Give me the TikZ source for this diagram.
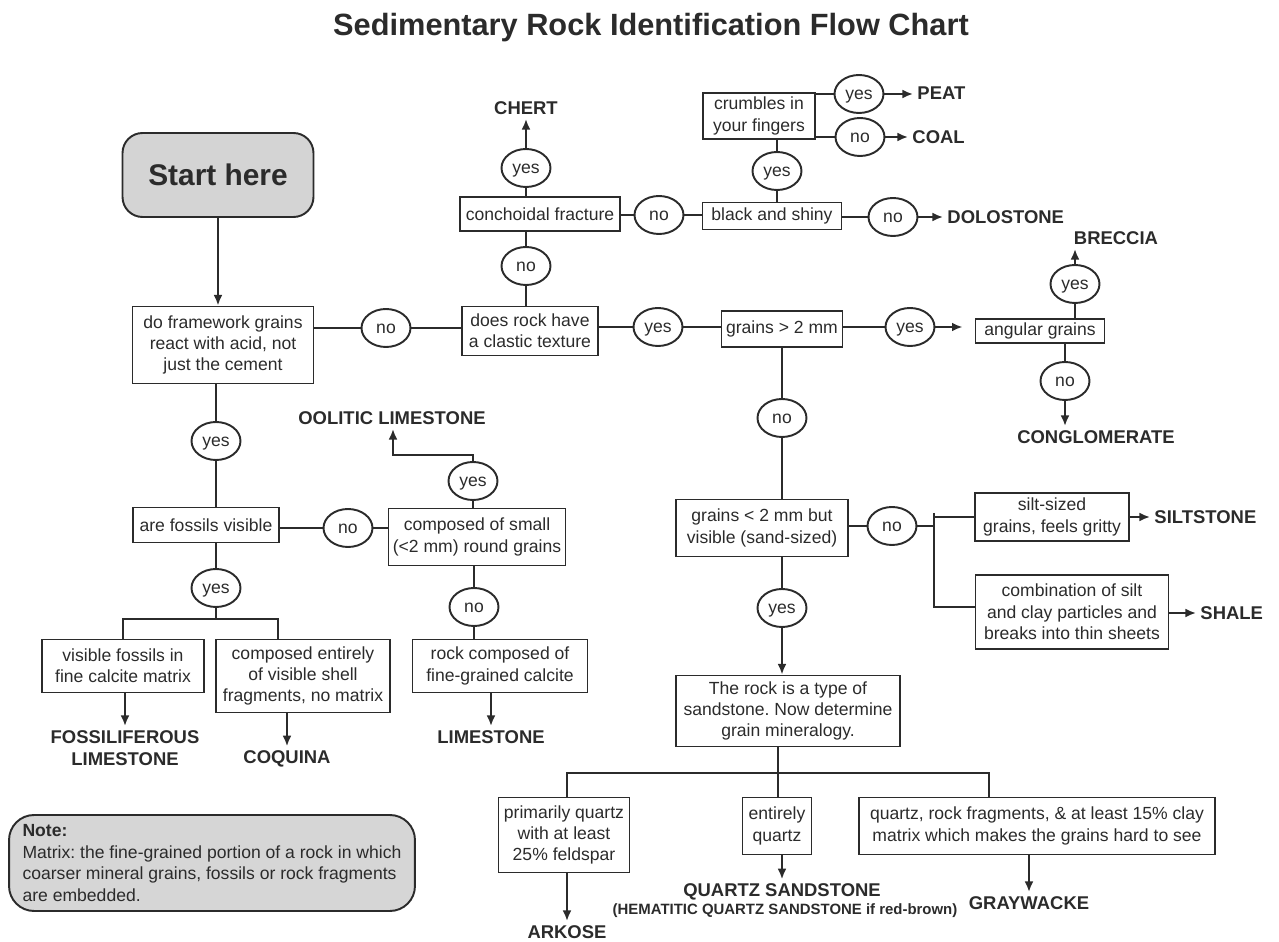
\documentclass[tikz,border=0pt]{standalone}
\usepackage{fontspec}
\setmainfont{Liberation Sans}
\usetikzlibrary{shapes,arrows.meta}

\definecolor{ink}{HTML}{2B2B2B}
\definecolor{startgray}{HTML}{D4D4D4}
\definecolor{notegray}{HTML}{D6D6D6}

\newcommand{\boxfont}{\fontsize{10}{12.2}\selectfont}
\newcommand{\rockfont}{\fontsize{10.5}{12.5}\selectfont\bfseries}

\begin{document}
\frenchspacing
\begin{tikzpicture}[x=0.02cm,y=-0.02cm,color=ink,>={Latex[length=6pt,width=5pt]}]
        \tikzstyle{every path}=[line width=1.1pt]

        \tikzstyle{box}=[draw,align=center,inner sep=2pt,font=\boxfont]
        \tikzstyle{oval}=[draw,ellipse,minimum width=0.98cm,minimum height=0.76cm,inner sep=0pt,text height=1.3ex,text depth=0.1ex,font=\boxfont]
        \tikzstyle{rock}=[align=center,inner sep=2pt,font=\rockfont]
        \tikzstyle{hema}=[inner sep=1pt,font=\fontsize{8.5}{10}\selectfont\bfseries]
        \tikzstyle{startbox}=[draw,fill=startgray,rounded corners=0.4cm,minimum width=3.82cm,minimum height=1.68cm,font=\fontsize{17}{20}\selectfont\bfseries]
        \tikzstyle{notebox}=[draw,fill=notegray,rounded corners=0.5cm,minimum width=8.12cm,minimum height=1.92cm,align=left,font=\boxfont]

        \useasboundingbox (0,0) rectangle (1279,942);

        \node[font=\fontsize{17.5}{21}\selectfont\bfseries] (title) at (651,28) {Sedimentary Rock Identification Flow Chart};

        \node[startbox] (start) at (218,175) {Start here};
        \node[box,minimum width=3.62cm,minimum height=1.54cm] (react) at (223,345) {do framework grains\\react with acid, not\\just the cement};
        \draw[->] (start) -- (start |- react.north);

        % clastic or not
        \node[oval] (noA) at (386,328) {no};
        \node[box,minimum width=2.72cm,minimum height=0.98cm] (clastic) at (530,331) {does rock have\\a clastic texture};
        \draw (react.east |- noA) -- (noA) -- (clastic.west |- noA);

        \node[oval] (noB) at (526,266) {no};
        \node[box,minimum width=3.2cm,minimum height=0.68cm] (conch) at (540,214) {conchoidal fracture};
        \node[oval] (yesB) at (526,168) {yes};
        \node[rock] (chert) at (526,108) {CHERT};
        \draw (clastic.north -| noB) -- (noB) -- (noB |- conch.south);
        \draw (conch.north -| yesB) -- (yesB);
        \draw[->] (yesB) -- (yesB |- chert.south);

        \node[oval] (noF) at (659,215) {no};
        \node[box,minimum width=2.78cm,minimum height=0.54cm] (black) at (772,216) {black and shiny};
        \draw (conch.east |- noF) -- (noF) -- (black.west |- noF);
        \node[oval] (noG) at (893,217) {no};
        \node[rock,anchor=west] (dolo) at (943,217) {DOLOSTONE};
        \draw (black.east |- noG) -- (noG);
        \draw[->] (noG) -- (dolo);

        \node[oval] (yesG) at (777,171) {yes};
        \node[box,minimum width=2.24cm,minimum height=0.92cm] (crumble) at (759,116) {crumbles in\\your fingers};
        \draw (black.north -| yesG) -- (yesG) -- (yesG |- crumble.south);
        \node[oval] (yesH) at (859,94) {yes};
        \node[oval] (noH) at (860,137) {no};
        \node[rock,anchor=west] (peat) at (913,93) {PEAT};
        \node[rock,anchor=west] (coal) at (908,137) {COAL};
        \draw (crumble.east |- yesH) -- (yesH);
        \draw (crumble.east |- noH) -- (noH);
        \draw[->] (yesH) -- (peat.west |- yesH);
        \draw[->] (noH) -- (coal);

        % grain size
        \node[oval] (yesC) at (658,327) {yes};
        \node[box,minimum width=2.42cm,minimum height=0.72cm] (gt2) at (782,329) {grains > 2 mm};
        \draw (clastic.east |- yesC) -- (yesC) -- (gt2.west |- yesC);
        \node[oval] (yesD) at (910,327) {yes};
        \node[box,minimum width=2.58cm,minimum height=0.48cm] (angular) at (1040,331) {angular grains};
        \draw (gt2.east |- yesD) -- (yesD);
        \draw[->,shorten >=0.24cm] (yesD) -- (angular.west |- yesD);

        \node[oval] (yesE) at (1075,284) {yes};
        \node[rock] (breccia) at (1116,238) {BRECCIA};
        \draw (angular.north -| yesE) -- (yesE);
        \draw[->] (yesE) -- (yesE |- breccia.south);
        \node[oval] (noE) at (1065,381) {no};
        \node[rock] (congl) at (1096,437) {CONGLOMERATE};
        \draw (angular.south -| noE) -- (noE);
        \draw[->] (noE) -- (noE |- congl.north);

        \node[oval] (noI) at (782,418) {no};
        \node[box,minimum width=3.44cm,minimum height=1.14cm] (lt2) at (762,528) {grains < 2 mm but\\visible (sand-sized)};
        \draw (gt2) -- (noI) -- (noI |- lt2.north);

        \node[oval] (noJ) at (892,526) {no};
        \draw (lt2.east |- noJ) -- (noJ);
        \coordinate (splitT) at (934,513);
        \coordinate (splitB) at (934,607);
        \node[box,minimum width=3.08cm,minimum height=0.96cm] (silt) at (1052,517) {silt-sized\\grains, feels gritty};
        \node[box,minimum width=3.86cm,minimum height=1.48cm] (combo) at (1072,612) {combination of silt\\and clay particles and\\breaks into thin sheets};
        \draw (noJ) -- (noJ -| splitT);
        \draw (splitT) -- (splitB) -- (combo.west |- splitB);
        \draw (splitT |- silt) -- (silt.west);
        \node[rock,anchor=west] (siltst) at (1150,517) {SILTSTONE};
        \node[rock,anchor=west] (shale) at (1196,613) {SHALE};
        \draw[->] (silt.east) -- (siltst.west);
        \draw[->] (combo.east |- shale) -- (shale.west);

        % sandstones
        \node[oval] (yesK) at (782,608) {yes};
        \node[box,minimum width=4.48cm,minimum height=1.42cm] (sand) at (788,711) {The rock is a type of\\sandstone. Now determine\\grain mineralogy.};
        \draw (lt2.south -| yesK) -- (yesK);
        \draw[->] (yesK) -- (yesK |- sand.north);

        \coordinate (barL) at (567,773);
        \coordinate (barM) at (778,773);
        \coordinate (barR) at (989,773);
        \node[box,minimum width=2.62cm,minimum height=1.5cm] (arkose) at (564,835) {primarily quartz\\with at least\\25\% feldspar};
        \node[box,minimum width=1.38cm,minimum height=1.14cm] (quartz) at (777,826) {entirely\\quartz};
        \node[box,minimum width=7.12cm,minimum height=1.14cm] (gray) at (1037,826) {quartz, rock fragments, \& at least 15\% clay\\matrix which makes the grains hard to see};
        \draw (sand.south -| barM) -- (barM |- quartz.north);
        \draw (barL |- arkose.north) -- (barL) -- (barR) -- (barR |- gray.north);

        \node[rock] (arklbl) at (567,932) {ARKOSE};
        \node[rock] (qslbl) at (782,892) {QUARTZ SANDSTONE};
        \node[hema] (hemalbl) at (785,911) {(HEMATITIC QUARTZ SANDSTONE if red-brown)};
        \node[rock] (gwlbl) at (1029,903) {GRAYWACKE};

        % limestones
        \node[oval] (yes1) at (216,441) {yes};
        \node[box,minimum width=2.92cm,minimum height=0.7cm] (fossils) at (206,525) {are fossils visible};
        \draw (react.south -| yes1) -- (yes1) -- (yes1 |- fossils.north);
        \node[oval] (noL) at (348,528) {no};
        \node[box,minimum width=3.54cm,minimum height=1.14cm] (oolitic) at (477,537) {composed of small\\(<2 mm) round grains};
        \draw (fossils.east |- noL) -- (noL) -- (oolitic.west |- noL);

        \node[oval] (yesM) at (473,481) {yes};
        \node[rock] (oollbl) at (392,418) {OOLITIC LIMESTONE};
        \coordinate (oolbend) at (393,455);
        \draw (oolitic.north -| yesM) -- (yesM);
        \draw[->] (yesM) |- (oolbend) -- (oolbend |- oollbl.south);

        \node[oval] (noM) at (474,607) {no};
        \node[box,minimum width=3.5cm,minimum height=1.06cm] (rockcalc) at (500,666) {rock composed of\\fine-grained calcite};
        \draw (oolitic.south -| noM) -- (noM) -- (noM |- rockcalc.north);
        \node[rock] (limelbl) at (491,737) {LIMESTONE};

        \node[oval] (yesN) at (216,588) {yes};
        \coordinate (fosL) at (123,619);
        \coordinate (fosR) at (278,619);
        \node[box,minimum width=3.24cm,minimum height=1.06cm] (visfos) at (123,666) {visible fossils in\\fine calcite matrix};
        \node[box,minimum width=3.48cm,minimum height=1.46cm] (coquina) at (303,676) {composed entirely\\of visible shell\\fragments, no matrix};
        \draw (fossils.south -| yesN) -- (yesN) -- (yesN |- fosL);
        \draw (visfos.north) -- (fosL) -- (fosR) -- (fosR |- coquina.north);
        \node[rock] (fosslbl) at (125,748) {FOSSILIFEROUS\\LIMESTONE};
        \node[rock] (coqlbl) at (287,759) {COQUINA};

        %arrows down to the rock names
        \foreach \b/\l in {visfos/fosslbl, coquina/coqlbl, rockcalc/limelbl, arkose/arklbl, quartz/qslbl, gray/gwlbl} {
            \draw[->] (\l |- \b.south) -- (\l.north);
        };

        \node[notebox] (note) at (212,863) {\textbf{Note:}\\Matrix: the fine-grained portion of a rock in which\\coarser mineral grains, fossils or rock fragments\\are embedded.};
\end{tikzpicture}
\end{document}
